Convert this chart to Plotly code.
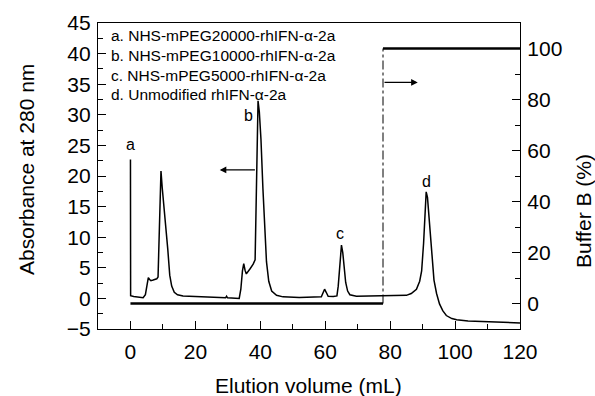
import plotly.graph_objects as go

# ---------------- data ----------------
elution_ml = [0, 0.05, 1, 2.5, 3.9, 4.6, 5.1, 5.5, 5.9, 6.3, 7.0, 8.1, 8.5, 8.9, 9.4, 9.8,
              10.3, 10.9, 11.5, 12.1, 12.7, 13.5, 14.5, 16.2, 20, 25, 29.3, 29.6, 29.9,
              33.5, 34.0, 34.5, 34.9, 35.3, 35.7, 36.8, 37.8, 38.4, 38.7, 39.0, 39.3,
              39.7, 40.2, 40.8, 41.3, 41.9, 42.6, 43.5, 45, 47, 52, 57, 58.8, 59.4,
              59.8, 60.3, 60.9, 62.5, 63.6, 64.0, 64.5, 65.0, 65.4, 65.8, 66.3, 66.9,
              67.6, 69.6, 74, 77.8, 82, 85, 86.5, 88.1, 89.1, 89.7, 90.3, 90.8, 91.1,
              91.5, 92.2, 92.8, 93.5, 94.3, 95.2, 96.2, 97.3, 99, 100.5, 104, 108.5,
              114, 120]
absorbance = [22.7, 0.45, 0.3, 0.2, 0.1, 0.6, 2.4, 3.4, 3.1, 2.9, 3.0, 3.2, 3.5, 12, 20.8,
              18, 15.2, 12.5, 8, 3.8, 2.0, 1.0, 0.6, 0.4, 0.3, 0.2, 0.1, 0.35, 0.1,
              0.0, 1.5, 4.5, 5.7, 4.6, 4.0, 4.8, 5.6, 6.3, 15, 27, 32.3,
              30.5, 26, 18, 11.5, 6, 2.8, 1.2, 0.5, 0.25, 0.15, 0.15, 0.25, 1.0,
              1.5, 1.0, 0.35, 0.3, 0.4, 2.0, 5.5, 8.7, 7.5, 5.2, 2.6, 1.2,
              0.6, 0.35, 0.4, 0.35, 0.4, 0.5, 0.8, 1.5, 2.8, 4.5, 9, 15, 17.4,
              16.5, 11.7, 6.5, 3.0, 0.8, -0.9, -2.0, -2.8, -3.3, -3.5, -3.7, -3.8,
              -3.9, -4.0]

buffer_ml = [0, 77.8, 77.8, 120]
buffer_pct = [0, 0, 100, 100]

peak_labels = ["a", "b", "c", "d"]
peak_label_x = [0, 36.5, 64.5, 91.1]
peak_label_y = [25.2, 29.9, 10.6, 19.1]

legend_lines = ["a. NHS-mPEG20000-rhIFN-α-2a",
                "b. NHS-mPEG10000-rhIFN-α-2a",
                "c. NHS-mPEG5000-rhIFN-α-2a",
                "d. Unmodified rhIFN-α-2a"]
legend_y = [42.9, 39.7, 36.4, 33.3]

x_ticks = [0, 20, 40, 60, 80, 100, 120]
y_ticks = [-5, 0, 5, 10, 15, 20, 25, 30, 35, 40, 45]
y2_ticks = [0, 20, 40, 60, 80, 100]

FONT = "Arial, Liberation Sans, sans-serif"

fig = go.Figure()
fig.add_trace(go.Scatter(x=elution_ml, y=absorbance, mode="lines",
                         line=dict(color="black", width=1.5), showlegend=False))
# buffer B gradient: thick horizontal parts, thin dash-dot step
fig.add_trace(go.Scatter(x=buffer_ml[0:2], y=buffer_pct[0:2], yaxis="y2", mode="lines",
                         line=dict(color="black", width=2.6), showlegend=False))
fig.add_trace(go.Scatter(x=buffer_ml[1:3], y=buffer_pct[1:3], yaxis="y2", mode="lines",
                         line=dict(color="black", width=1, dash="dashdot"), showlegend=False))
fig.add_trace(go.Scatter(x=buffer_ml[2:4], y=buffer_pct[2:4], yaxis="y2", mode="lines",
                         line=dict(color="black", width=2.6), showlegend=False))

annotations = []
for t, x, y in zip(peak_labels, peak_label_x, peak_label_y):
    annotations.append(dict(x=x, y=y, xref="x", yref="y", text=t, showarrow=False,
                            font=dict(size=16, family=FONT, color="black")))
for t, y in zip(legend_lines, legend_y):
    annotations.append(dict(x=-6.6, y=y, xref="x", yref="y", text=t, showarrow=False,
                            xanchor="left", yanchor="middle",
                            font=dict(size=15.5, family=FONT, color="black")))
# arrows
annotations.append(dict(x=27.5, y=21, ax=38.8, ay=21, xref="x", yref="y", axref="x", ayref="y",
                        text="", showarrow=True, arrowhead=2, arrowsize=1.1, arrowwidth=1.2,
                        arrowcolor="black"))
annotations.append(dict(x=88.5, y=86.7, ax=77.8, ay=86.7, xref="x", yref="y2", axref="x", ayref="y2",
                        text="", showarrow=True, arrowhead=2, arrowsize=1.1, arrowwidth=1.2,
                        arrowcolor="black"))
# axis titles
annotations.append(dict(x=0.498, y=-0.186, xref="paper", yref="paper", text="Elution volume (mL)",
                        showarrow=False, xanchor="center", yanchor="middle",
                        font=dict(size=21, family=FONT, color="black")))
annotations.append(dict(x=-0.168, y=0.52, xref="paper", yref="paper", text="Absorbance at 280 nm",
                        showarrow=False, textangle=-90, xanchor="center", yanchor="middle",
                        font=dict(size=21, family=FONT, color="black")))
annotations.append(dict(x=1.152, y=0.386, xref="paper", yref="paper", text="Buffer B (%)",
                        showarrow=False, textangle=-90, xanchor="center", yanchor="middle",
                        font=dict(size=21, family=FONT, color="black")))

axis_common = dict(showgrid=False, zeroline=False, showline=True, linecolor="black", linewidth=1.3,
                   ticks="inside", ticklen=8, tickwidth=1.2, tickcolor="black",
                   tickfont=dict(size=21, family=FONT, color="black"))

fig.update_layout(
    width=595, height=396,
    margin=dict(l=98, r=75, t=23, b=67),
    paper_bgcolor="white", plot_bgcolor="white",
    font=dict(family=FONT, color="black"),
    xaxis=dict(range=[-10, 120], tickvals=x_ticks, mirror=True,
               minor=dict(ticks="inside", ticklen=5, dtick=10, tick0=0, tickcolor="black"),
               ticklabelstandoff=4, **axis_common),
    yaxis=dict(range=[-5, 45], tickvals=y_ticks,
               minor=dict(ticks="inside", ticklen=5, dtick=2.5, tick0=0, tickcolor="black"),
               ticklabelstandoff=2, **axis_common),
    yaxis2=dict(range=[-10, 110], tickvals=y2_ticks, overlaying="y", side="right",
                minor=dict(ticks="inside", ticklen=5, dtick=10, tick0=0, tickcolor="black"),
                ticklabelstandoff=2, **axis_common),
    annotations=annotations,
)

fig.write_html("out.html")
